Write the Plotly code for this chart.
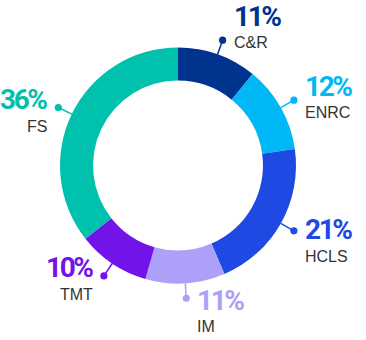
import math
import plotly.graph_objects as go

# ---- data ----
categories = ["C&R", "ENRC", "HCLS", "IM", "TMT", "FS"]
values = [11, 12, 21, 11, 10, 36]
pct_labels = ["11%", "12%", "21%", "11%", "10%", "36%"]

# ---- styles ----
colors = ["#00338D", "#00B8F5", "#1E49E2", "#ACA0F8", "#7213EA", "#00C0AE"]
label_side = ["right", "right", "right", "right", "left", "left"]
label_dy = [-24, -14, -1, 2, -8, -8]        # percent line centre vs. dot (px, down +)

W, H = 366, 340
CX, CY, R = 178, 165.5, 118
HOLE = 0.72
R_DOT = 133
GAP_R = 10
GAP_L = 10
NAME_DY = 26.5

fig = go.Figure()
fig.add_trace(go.Pie(
    labels=categories, values=values, sort=False, direction="clockwise",
    rotation=0, hole=HOLE, textinfo="none", hoverinfo="label+percent",
    marker=dict(colors=colors, line=dict(width=0)),
    domain=dict(x=[(CX - R) / W, (CX + R) / W],
                y=[1 - (CY + R) / H, 1 - (CY - R) / H]),
    showlegend=False,
))

def px(x):
    return x / W

def py(y):
    return 1 - y / H

total = sum(values)
cum = 0
shapes = []
annotations = []
for i, v in enumerate(values):
    mid = (cum + v / 2) / total * 2 * math.pi
    cum += v
    sx, sy = math.sin(mid), -math.cos(mid)
    x0, y0 = CX + R * sx, CY + R * sy
    xd, yd = CX + R_DOT * sx, CY + R_DOT * sy
    shapes.append(dict(type="line", xref="paper", yref="paper",
                       x0=px(x0), y0=py(y0), x1=px(xd), y1=py(yd),
                       line=dict(color=colors[i], width=1.5)))
    shapes.append(dict(type="circle", xref="paper", yref="paper",
                       x0=px(xd - 3.6), y0=py(yd - 3.6), x1=px(xd + 3.6), y1=py(yd + 3.6),
                       fillcolor=colors[i], line=dict(width=0)))
    if label_side[i] == "right":
        tx, anchor = xd + GAP_R, "left"
    else:
        tx, anchor = xd - GAP_L, "right"
    ty = yd + label_dy[i]
    annotations.append(dict(
        x=px(tx), y=py(ty), xref="paper", yref="paper", xanchor=anchor, yanchor="middle",
        text='<span style="letter-spacing:-2.4px"><b>%s</b></span>' % pct_labels[i],
        showarrow=False, borderpad=0,
        font=dict(family="Roboto, sans-serif", size=28, color=colors[i])))
    annotations.append(dict(
        x=px(tx), y=py(ty + NAME_DY), xref="paper", yref="paper", xanchor=anchor, yanchor="middle",
        text=categories[i], showarrow=False, borderpad=0,
        font=dict(family="Liberation Sans, Arial, sans-serif", size=16, color="#333333")))

fig.update_layout(
    width=W, height=H, margin=dict(l=0, r=0, t=0, b=0),
    paper_bgcolor="white", plot_bgcolor="white",
    shapes=shapes, annotations=annotations,
)

fig.write_html("out.html")
